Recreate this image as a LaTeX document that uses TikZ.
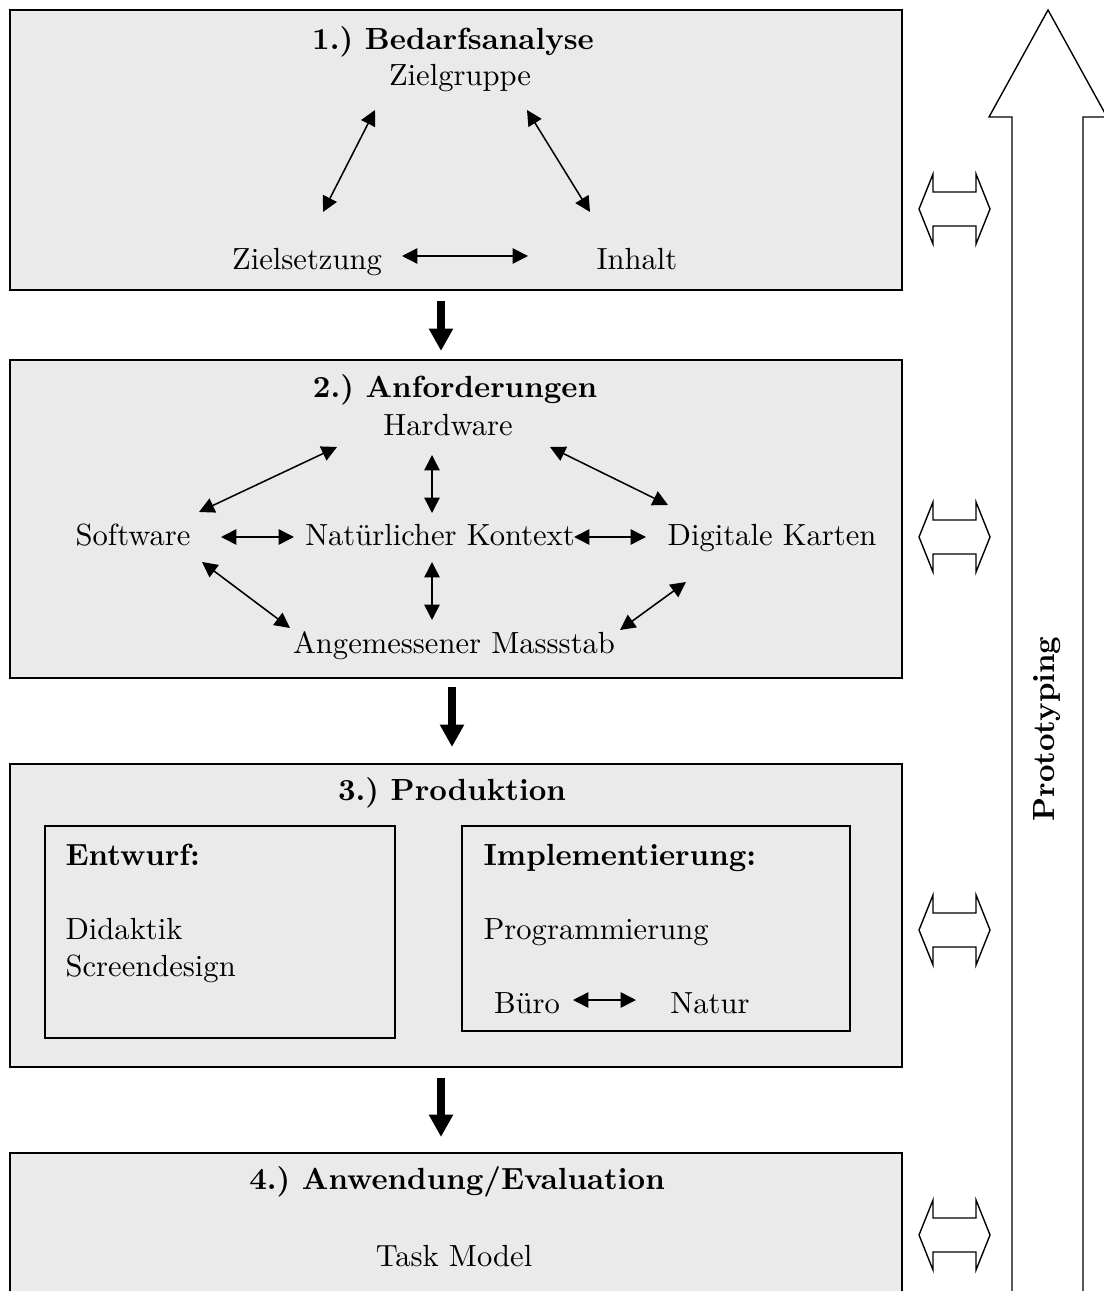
\documentclass[tikz,border=0pt]{standalone}
\usepackage{fontspec}
\usetikzlibrary{arrows.meta,calc,fit}
\definecolor{panelgray}{HTML}{EAEAEA}
\frenchspacing
\begin{document}
\begin{tikzpicture}[x=0.327pt,y=-0.327pt,
  panel/.style={draw=black,line width=0.7pt,fill=panelgray,inner sep=0pt},
  lbl/.style={inner sep=0pt,text height=7pt,text depth=2pt},
  head/.style={lbl,font=\bfseries},
  link/.style={{Triangle[length=5pt,width=5pt]}-{Triangle[length=5pt,width=5pt]},line width=0.5pt},
  flow/.style={-{Triangle[length=7.3pt,width=7.5pt]},line width=2.6pt},
  swap/.style={draw=black,line width=0.45pt,fill=white,line join=miter}
]
\useasboundingbox (0,0) rectangle (1104,1291);
\clip (0,0) rectangle (1104,1291);

% ---- phase panels ----
\node[panel,fit={(10,10)(902,290)}] (p1) {};
\node[panel,fit={(10,360)(902,678)}] (p2) {};
\node[panel,fit={(10,764)(902,1067)}] (p3) {};
\node[panel,fit={(10,1153)(902,1330)}] (p4) {};

% ---- 1.) Bedarfsanalyse ----
\node[head] (t1) at (453,42) {1.) Bedarfsanalyse};
\node[lbl] (zg) at (460,78) {Zielgruppe};
\node[lbl] (zs) at (307,262) {Zielsetzung};
\node[lbl] (ih) at (637,262) {Inhalt};
\draw[link] ([shift={(-85,32)}]zg.center) -- ([shift={(16,-50)}]zs.center);
\draw[link] ([shift={(67,32)}]zg.center) -- ([shift={(-47,-50)}]ih.center);
\draw[link] ([shift={(95,-6)}]zs.center) -- ([shift={(-109,-6)}]ih.center);

% ---- 2.) Anforderungen ----
\node[head] (t2) at (455,390) {2.) Anforderungen};
\node[lbl] (hw) at (448,428) {Hardware};
\node[lbl] (sw) at (133,538) {Software};
\node[lbl] (nk) at (440,538) {Natürlicher Kontext};
\node[lbl] (dk) at (772,538) {Digitale Karten};
\node[lbl] (am) at (454,646) {Angemessener Massstab};
\draw[link] ([shift={(-111,19)}]hw.center) -- ([shift={(66,-26)}]sw.center);
\draw[link] ([shift={(102,19)}]hw.center) -- ([shift={(-104,-33)}]dk.center);
\draw[link] ([shift={(-16,27)}]hw.center) -- ([shift={(-8,-25)}]nk.center);
\draw[link] ([shift={(88,-1)}]sw.center) -- ([shift={(-146,-1)}]nk.center);
\draw[link] ([shift={(134,-1)}]nk.center) -- ([shift={(-126,-1)}]dk.center);
\draw[link] ([shift={(-8,24)}]nk.center) -- ([shift={(-22,-26)}]am.center);
\draw[link] ([shift={(69,24)}]sw.center) -- ([shift={(-164,-18)}]am.center);
\draw[link] ([shift={(-86,44)}]dk.center) -- ([shift={(166,-16)}]am.center);

% ---- 3.) Produktion ----
\node[head] (t3) at (452,793) {3.) Produktion};
\node[panel,fit={(45,826)(395,1038)}] (ew) {};
\node[panel,fit={(462,826)(850,1031)}] (im) {};
\node[head,anchor=west] (ewt) at (65,858) {Entwurf:};
\node[lbl,anchor=west] (di) at (65,932) {Didaktik};
\node[lbl,anchor=west] (sd) at (65,969) {Screendesign};
\node[head,anchor=west] (imt) at (483,858) {Implementierung:};
\node[lbl,anchor=west] (pg) at (483,932) {Programmierung};
\node[lbl] (bu) at (527,1006) {Büro};
\node[lbl] (na) at (710,1006) {Natur};
\draw[link] ([shift={(46,-6)}]bu.center) -- ([shift={(-74,-6)}]na.center);

% ---- 4.) Anwendung/Evaluation ----
\node[head] (t4) at (457,1182) {4.) Anwendung/Evaluation};
\node[lbl] (tm) at (454,1259) {Task Model};

% ---- flow between phases ----
\draw[flow] ($(p1.south)+(-15,10)$) -- ($(p2.north)+(-15,-8)$);
\draw[flow] ($(p2.south)+(-4,8)$) -- ($(p3.north)+(-4,-16)$);
\draw[flow] ($(p3.south)+(-15,10)$) -- ($(p4.north)+(-15,-15)$);

% ---- exchange arrows beside the phases ----
\foreach \cy in {209,537,930,1235}{
  \draw[swap] (919,\cy) -- (933,\cy-35) -- (933,\cy-17) -- (976,\cy-17)
    -- (976,\cy-35) -- (990,\cy) -- (976,\cy+35) -- (976,\cy+17)
    -- (933,\cy+17) -- (933,\cy+35) -- cycle;
}

% ---- prototyping arrow ----
\draw[line width=0.45pt,line join=miter] (1012,1320) -- (1012,117) -- (989,117)
  -- (1048,10) -- (1107,117) -- (1083,117) -- (1083,1320);
\node[head,rotate=90] (pt) at (1047,729) {Prototyping};
\end{tikzpicture}
\end{document}
